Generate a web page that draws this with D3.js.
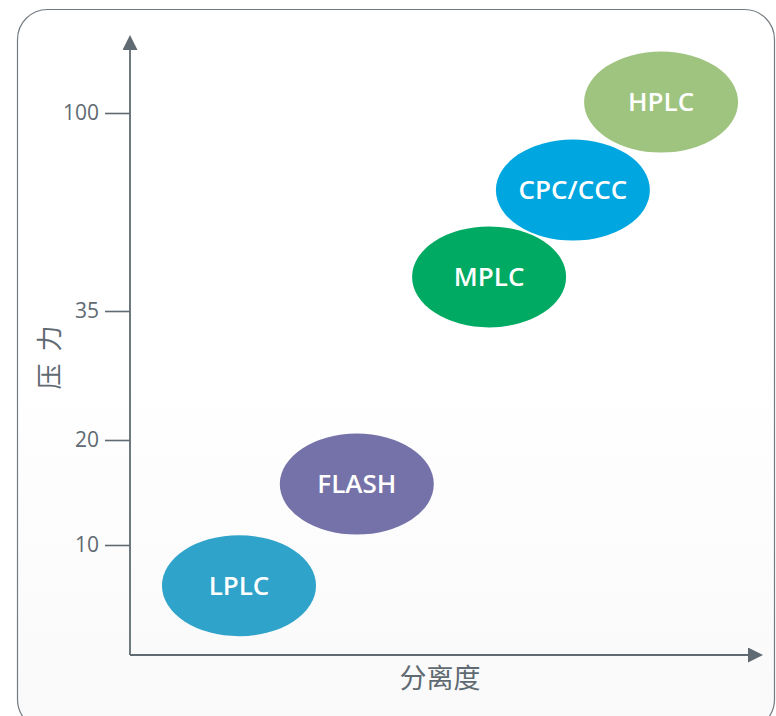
<!DOCTYPE html>
<html>
<head>
<meta charset="utf-8">
<script src="https://cdn.jsdelivr.net/npm/d3@7/dist/d3.min.js"></script>
<style>
  html, body { margin: 0; padding: 0; background: #ffffff; }
  svg { display: block; }
</style>
</head>
<body>
<svg id="chart" width="776" height="716"></svg>
<script>
// Chromatography techniques: separation (x) versus pressure (y)
const methods = ["LPLC", "FLASH", "MPLC", "CPC/CCC", "HPLC"];
const separation = [17.3, 36.0, 57.0, 70.3, 84.3];
const pressure = [6.3, 15.8, 46.2, 74.7, 103.6];
const colors = ["#2fa3c9", "#7472a8", "#00aa63", "#00a6e0", "#9ec47f"];
const pressureTicks = [10, 20, 35, 100];

const axisColor = "#5f6a72";
const svg = d3.select("#chart");
const defs = svg.append("defs");

// soft background fade toward the bottom
const grad = defs.append("linearGradient")
  .attr("id", "bg").attr("x1", 0).attr("y1", 0).attr("x2", 0).attr("y2", 1);
grad.append("stop").attr("offset", "0%").attr("stop-color", "#ffffff");
grad.append("stop").attr("offset", "50%").attr("stop-color", "#ffffff");
grad.append("stop").attr("offset", "100%").attr("stop-color", "#f9f9f9");

svg.append("rect")
  .attr("x", 17.5).attr("y", 9.5)
  .attr("width", 757).attr("height", 720)
  .attr("rx", 30).attr("ry", 30)
  .attr("fill", "url(#bg)")
  .attr("stroke", "#737b81").attr("stroke-width", 1.2);

// scales: x is a plain 0-100 separation index, y is a piecewise pressure scale
const x = d3.scaleLinear().domain([0, 100]).range([130, 760]);
const y = d3.scaleLinear().domain([0, 10, 20, 35, 100]).range([655, 545, 440, 311, 113]);

// arrowed axes
defs.append("marker")
  .attr("id", "arrowhead").attr("viewBox", "0 0 10 10")
  .attr("refX", 2).attr("refY", 5)
  .attr("markerWidth", 15).attr("markerHeight", 15)
  .attr("markerUnits", "userSpaceOnUse")
  .attr("orient", "auto")
  .append("path").attr("d", "M0,0 L10,5 L0,10 Z").attr("fill", axisColor);

svg.append("line")
  .attr("x1", x(0)).attr("y1", y(0))
  .attr("x2", x(0)).attr("y2", 47)
  .attr("stroke", axisColor).attr("stroke-width", 1.8)
  .attr("marker-end", "url(#arrowhead)");
svg.append("line")
  .attr("x1", x(0)).attr("y1", y(0))
  .attr("x2", 751).attr("y2", y(0))
  .attr("stroke", axisColor).attr("stroke-width", 1.8)
  .attr("marker-end", "url(#arrowhead)");

const yAxis = svg.append("g")
  .attr("transform", `translate(${x(0)},0)`)
  .call(d3.axisLeft(y).tickValues(pressureTicks).tickSize(25).tickPadding(6).tickFormat(d3.format("d")));
yAxis.select(".domain").remove();
yAxis.selectAll(".tick line").attr("stroke", axisColor).attr("stroke-width", 1.6);
yAxis.selectAll(".tick text")
  .attr("fill", axisColor)
  .style("font-family", "'Open Sans', 'Noto Sans', sans-serif")
  .style("font-size", "21px");

// axis titles
svg.append("text")
  .attr("transform", "translate(59,356) rotate(-90)")
  .attr("text-anchor", "middle")
  .attr("fill", axisColor)
  .style("font-family", "'Noto Sans CJK SC', sans-serif")
  .style("font-size", "26px")
  .style("letter-spacing", "3px")
  .text("压 力");
svg.append("text")
  .attr("x", 440).attr("y", 688)
  .attr("text-anchor", "middle")
  .attr("fill", axisColor)
  .style("font-family", "'Noto Sans CJK SC', sans-serif")
  .style("font-size", "27px")
  .text("分离度");

// method bubbles
const data = methods.map((m, i) => ({ name: m, sx: separation[i], py: pressure[i], color: colors[i] }));
const g = svg.append("g").selectAll("g").data(data).join("g")
  .attr("transform", d => `translate(${x(d.sx)},${y(d.py)})`);
g.append("ellipse")
  .attr("rx", 77).attr("ry", 50.5)
  .attr("fill", d => d.color);
g.append("text")
  .attr("text-anchor", "middle")
  .attr("dy", "0.36em")
  .attr("fill", "#ffffff")
  .style("font-family", "'Open Sans', 'Noto Sans', sans-serif")
  .style("font-weight", 600)
  .style("font-size", "26px")
  .text(d => d.name);
</script>
</body>
</html>
